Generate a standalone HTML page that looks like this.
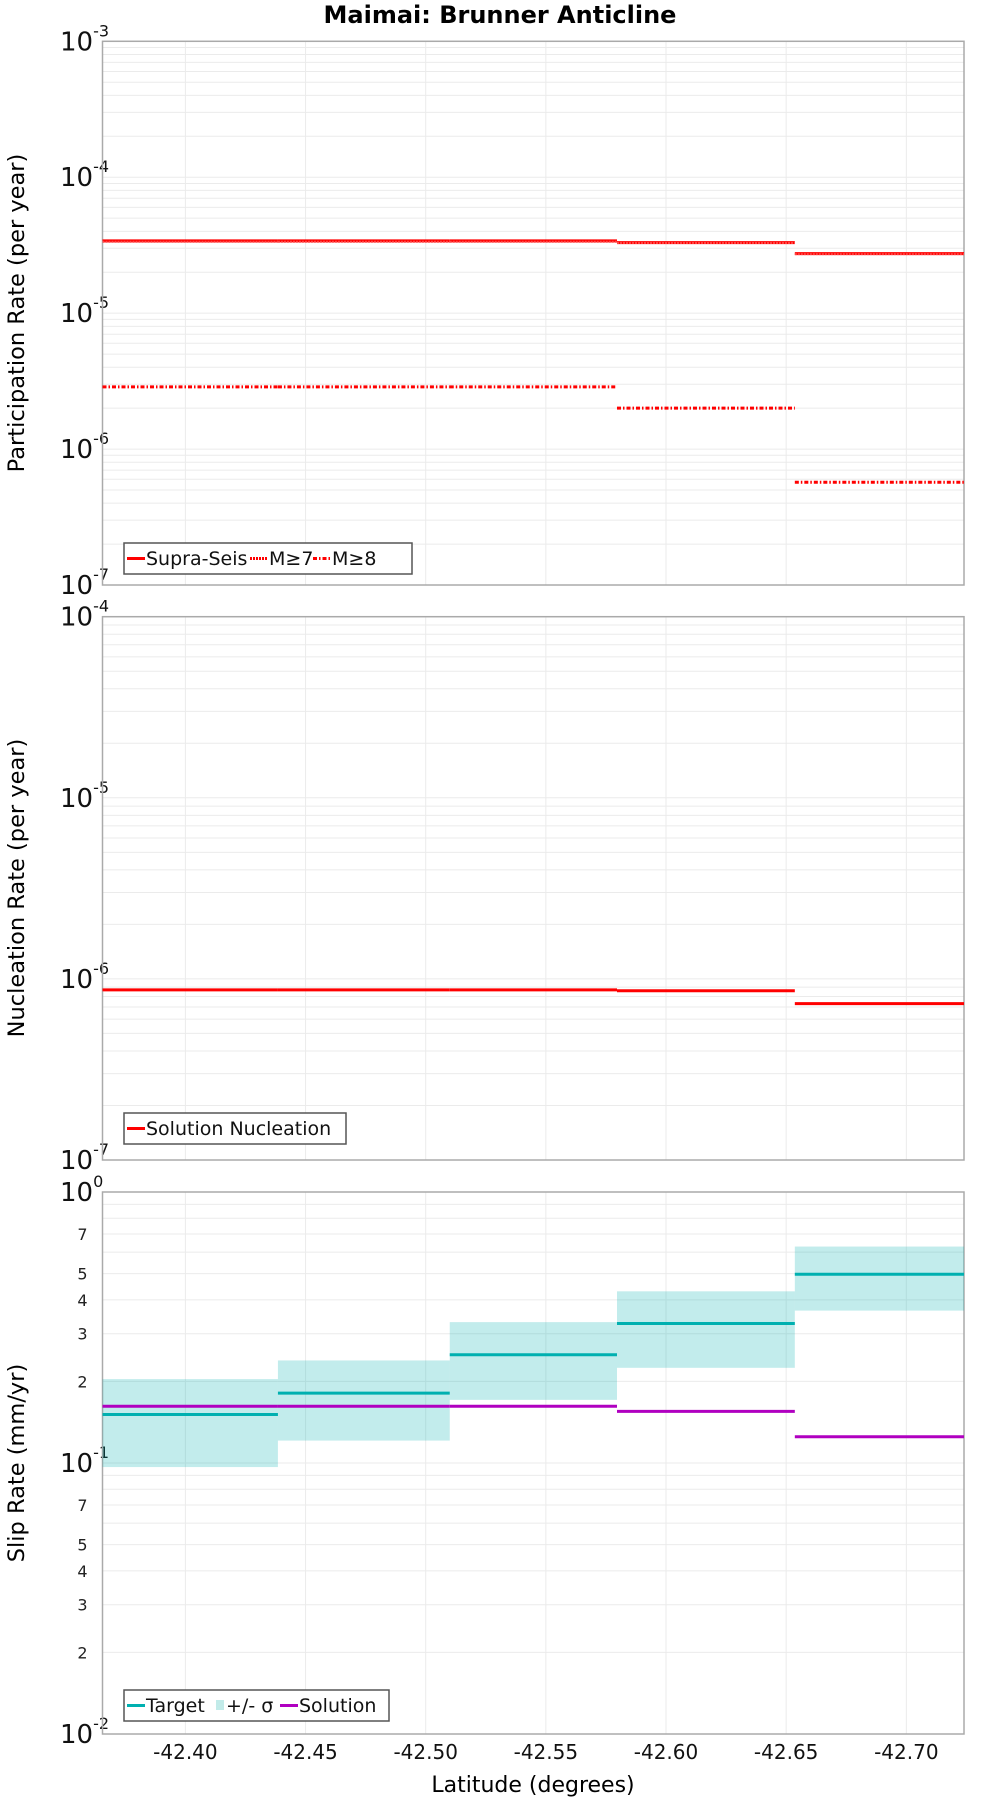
<!DOCTYPE html>
<html><head><meta charset="utf-8"><style>
body{margin:0;background:#fff;}
svg{display:block;font-family:"DejaVu Sans","Liberation Sans",sans-serif;}
</style></head><body>
<svg id="fig" width="1000" height="1800" viewBox="0 0 1000 1800" xmlns="http://www.w3.org/2000/svg">
<text x="500" y="23" text-anchor="middle" font-size="24" font-weight="bold">Maimai: Brunner Anticline</text>
<g id="p1"></g>
<g id="p2"></g>
<g id="p3"></g>
<text x="533" y="1792" text-anchor="middle" font-size="22">Latitude (degrees)</text>
</svg>
<script>
// shared x data
const segStarts = [-42.3655, -42.4385, -42.510, -42.5796, -42.6536];
const segEnds   = [-42.4385, -42.510, -42.5796, -42.6536, -42.724];
const xTicks = [-42.40, -42.45, -42.50, -42.55, -42.60, -42.65, -42.70];
const xTickLabels = ["-42.40","-42.45","-42.50","-42.55","-42.60","-42.65","-42.70"];
// panel 1
const supraSeis = [3.4e-5, 3.4e-5, 3.4e-5, 3.3e-5, 2.74e-5];
const m7 = [3.35e-5, 3.35e-5, 3.35e-5, 3.28e-5, 2.72e-5];
const m8 = [2.87e-6, 2.87e-6, 2.87e-6, 2.0e-6, 5.7e-7];
// panel 2
const nucleation = [8.7e-7, 8.7e-7, 8.7e-7, 8.6e-7, 7.3e-7];
// panel 3
const target = [0.151, 0.181, 0.251, 0.327, 0.497];
const sigmaHi = [0.204, 0.239, 0.331, 0.430, 0.629];
const sigmaLo = [0.0966, 0.121, 0.171, 0.2245, 0.365];
const solution = [0.162, 0.162, 0.162, 0.155, 0.125];

const NS="http://www.w3.org/2000/svg";
const L=102.5, R=964;
const X0=-42.3655, X1=-42.724;
function xs(v){return L+(v-X0)/(X1-X0)*(R-L);}
function mk(parent,tag,attrs){const e=document.createElementNS(NS,tag);for(const k in attrs)e.setAttribute(k,attrs[k]);parent.appendChild(e);return e;}

function panel(g,top,bot,eMax,eMin,minorLabels){
  const ys=v=>top+(eMax-Math.log10(v))/(eMax-eMin)*(bot-top);
  for(let e=eMin;e<eMax;e++){
    for(let m=1;m<=9;m++){
      const y=ys(m*Math.pow(10,e));
      const ln=mk(g,'line',{x1:L,x2:R,y1:y,y2:y,stroke:'#ebebeb','stroke-width':1});
      
      
      if(minorLabels && [2,3,4,5,7].includes(m)){
        const t=mk(g,'text',{x:L-15,y:y+6,'text-anchor':'end','font-size':16,fill:'#222'});
        
        
        t.textContent=m;
      }
    }
  }
  xTicks.forEach(v=>{
    const ln=mk(g,'line',{x1:xs(v),x2:xs(v),y1:top,y2:bot,stroke:'#ebebeb','stroke-width':1});
    
    
  });
  for(let e=eMin;e<=eMax;e++){
    const y=ys(Math.pow(10,e));
    const t=mk(g,'text',{x:60,y:y+9,'font-size':26,fill:'#111'});
    
    
    t.textContent='10';
    const s=mk(t,'tspan',{dy:-14,'font-size':16});
    s.textContent=String(e);
  }
  const fr=mk(g,'rect',{x:L,y:top,width:R-L,height:bot-top,fill:'none',stroke:'#aaa','stroke-width':1.5});
  
  
  return ys;
}
function steps(g,vals,ys,attrs,name){
  vals.forEach((v,i)=>{
    const a=Object.assign({x1:xs(segStarts[i]),x2:xs(segEnds[i]),y1:ys(v),y2:ys(v)},attrs);
    const ln=mk(g,'line',a);
    
    
  });
}
function ytitle(g,txt,cy,name){
  const t=mk(g,'text',{x:0,y:0,'font-size':22.5,'text-anchor':'middle',transform:`translate(24,${cy}) rotate(-90)`});
  
  
  t.textContent=txt;
}
function legend(g,x,y,w,items){
  const lg=mk(g,'g',{});
  
  
  mk(lg,'rect',{x:x,y:y,width:w,height:31,fill:'#fff',stroke:'#555','stroke-width':1.5});
  let cx=x+3;
  items.forEach(it=>{
    const e=mk(lg,'g',{});
    
    
    if(it.box){mk(e,'rect',{x:cx+2,y:y+10,width:8,height:10,fill:it.box});cx+=12;}
    else{mk(e,'line',Object.assign({x1:cx,x2:cx+18,y1:y+15.5,y2:y+15.5},it.line));cx+=19;}
    const t=mk(e,'text',{x:cx,y:y+22,'font-size':19,fill:'#111'});
    t.textContent=it.label;
    cx+=it.w;
  });
}
// Panel 1
const g1=document.getElementById('p1');
const y1=panel(g1,41.3,585,-3,-7,false);
steps(g1,supraSeis,y1,{stroke:'#f00','stroke-width':3},'supra-seis-line');
steps(g1,m7,y1,{stroke:'#f44','stroke-width':2,'stroke-dasharray':'2,1'},'m7-line');
steps(g1,m8,y1,{stroke:'#f00','stroke-width':3,'stroke-dasharray':'4,2,1.5,2'},'m8-line');
ytitle(g1,'Participation Rate (per year)',313,'participation-y-axis-title');
legend(g1,124,543,288,[
 {line:{stroke:'#f00','stroke-width':3},label:'Supra-Seis',w:104},
 {line:{stroke:'#f00','stroke-width':3,'stroke-dasharray':'2,1'},label:'M≥7',w:44},
 {line:{stroke:'#f00','stroke-width':3,'stroke-dasharray':'4,2,1.5,2'},label:'M≥8',w:44}]);
// Panel 2
const g2=document.getElementById('p2');
const y2=panel(g2,616.7,1160,-4,-7,false);
steps(g2,nucleation,y2,{stroke:'#f00','stroke-width':3},'nucleation-line');
ytitle(g2,'Nucleation Rate (per year)',888,'nucleation-y-axis-title');
legend(g2,124,1113,222,[{line:{stroke:'#f00','stroke-width':3},label:'Solution Nucleation',w:190}]);
// Panel 3
const g3=document.getElementById('p3');
const y3=panel(g3,1192,1734,0,-2,true);
sigmaHi.forEach((hi,i)=>{
  const r=mk(g3,'rect',{x:xs(segStarts[i]),y:y3(hi),width:xs(segEnds[i])-xs(segStarts[i]),height:y3(sigmaLo[i])-y3(hi),fill:'#00b0b0','fill-opacity':0.24});
  
  
});
steps(g3,target,y3,{stroke:'#00b0b0','stroke-width':3},'target-line');
steps(g3,solution,y3,{stroke:'#b000c0','stroke-width':3},'solution-line');
ytitle(g3,'Slip Rate (mm/yr)',1463,'slip-rate-y-axis-title');
legend(g3,124,1690,265,[
 {line:{stroke:'#00b0b0','stroke-width':3},label:'Target',w:68},
 {box:'#c2ebe9',label:'+/- σ',w:54},
 {line:{stroke:'#b000c0','stroke-width':3},label:'Solution',w:90}]);
// x tick labels
xTicks.forEach((v,i)=>{
  const t=mk(g3,'text',{x:xs(v),y:1759,'text-anchor':'middle','font-size':20,fill:'#111'});
  
  
  t.textContent=xTickLabels[i];
});
</script>
</body></html>
